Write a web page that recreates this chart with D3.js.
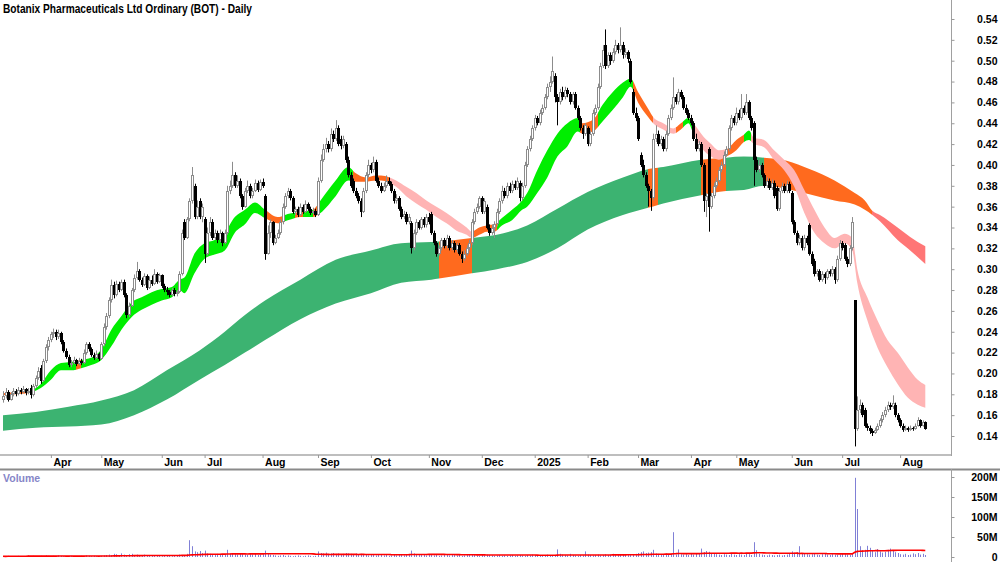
<!DOCTYPE html>
<html><head><meta charset="utf-8">
<script src="https://cdn.jsdelivr.net/npm/d3@7"></script>
<style>html,body{margin:0;padding:0;background:#fff;}svg{display:block;font-family:"Liberation Sans",Arial,sans-serif;}</style>
</head><body><svg id="c" width="1000" height="562"></svg>
<script>
// ---------- DATA (prices in cents, volume in millions) ----------
const title = "Botanix Pharmaceuticals Ltd Ordinary (BOT) - Daily";
const candles = [ // [open, high, low, close]
[17.5,18.3,17.2,17.8],[17.8,18.6,17.6,18.2],[18.2,18.4,17.3,17.5],[17.5,18.2,17.4,18.0],[18.0,18.6,17.8,18.3],
[18.3,18.5,17.8,18.0],[18.0,18.7,17.9,18.4],[18.4,18.6,18.0,18.2],[18.2,18.8,18.1,18.5],[18.5,18.6,17.9,18.1],
[18.1,18.6,18.0,18.3],[18.6,18.9,17.6,17.9],[17.9,19.0,17.8,18.8],[18.8,19.8,18.6,19.6],[19.6,20.6,19.4,20.2],
[20.5,20.8,19.0,19.3],[19.3,21.4,19.2,21.2],[21.2,22.8,21.0,22.5],[22.5,23.5,22.2,23.2],[23.2,24.0,23.0,23.8],
[23.8,24.3,23.4,24.0],[24.0,24.2,23.2,23.5],[23.5,24.2,23.3,23.9],[23.9,24.0,22.8,23.0],[23.0,23.2,22.0,22.2],
[22.2,22.4,21.4,21.6],[21.6,21.8,20.6,20.8],[20.8,21.3,20.6,21.0],[21.0,21.6,20.9,21.3],[21.3,21.4,20.7,20.9],
[20.9,21.5,20.8,21.2],[21.2,21.4,20.8,21.0],[21.0,22.3,20.9,22.0],[22.0,23.0,21.8,22.8],[22.8,23.0,22.1,22.3],
[22.3,22.5,21.6,21.8],[21.8,22.0,21.3,21.5],[21.5,22.2,21.4,21.9],[21.9,22.0,21.2,21.4],[21.4,23.0,21.3,22.8],
[22.8,24.8,22.6,24.5],[24.5,25.8,24.2,25.5],[25.5,27.3,25.3,27.0],[27.0,29.0,26.8,28.5],[28.5,28.8,27.2,27.5],
[27.5,28.9,27.4,28.6],[28.6,28.8,27.8,28.0],[28.0,29.0,27.9,28.8],[28.8,29.0,27.3,27.5],[27.5,27.7,25.3,25.6],
[25.6,26.8,25.4,26.5],[26.5,28.2,26.4,28.0],[28.0,29.5,27.8,29.2],[29.2,30.7,29.0,29.8],[29.8,30.0,28.8,29.0],
[29.0,29.2,28.3,28.5],[28.5,29.6,28.4,29.3],[29.3,29.5,28.0,28.2],[28.2,29.3,28.1,29.0],[29.0,29.4,28.4,28.6],
[28.6,30.0,28.5,29.5],[29.5,29.7,28.6,28.8],[28.8,29.6,28.7,29.4],[29.4,29.5,28.2,28.4],[28.4,28.6,27.8,28.0],
[28.0,28.3,27.5,27.8],[27.8,28.0,27.3,27.5],[27.5,28.2,27.4,28.0],[28.0,28.2,27.4,27.6],[27.6,28.0,27.4,27.8],
[27.8,29.8,27.7,29.5],[29.5,33.8,29.4,33.5],[34.5,34.8,32.8,33.0],[33.0,35.0,32.9,34.8],[34.8,36.8,34.6,36.5],
[36.5,39.8,36.3,39.0],[38.0,38.2,34.8,35.0],[35.0,36.6,34.8,36.0],[36.5,36.8,34.8,35.0],[35.0,36.3,34.5,36.0],
[34.8,35.0,30.6,31.5],[31.5,34.0,31.3,33.5],[33.5,35.0,33.2,34.5],[34.5,34.8,32.8,33.0],[33.0,33.8,32.8,33.5],
[33.5,33.7,32.5,32.8],[32.8,33.8,32.6,33.5],[33.5,33.6,32.2,32.5],[32.5,33.8,32.4,33.5],[33.5,38.0,33.3,37.5],
[37.5,38.5,37.2,38.0],[38.0,40.3,37.8,39.0],[39.0,39.3,37.8,38.0],[38.0,39.0,37.8,38.5],[38.5,38.7,36.8,37.0],
[37.0,37.2,35.7,36.0],[36.0,37.8,35.9,37.5],[37.5,38.5,37.3,38.0],[38.0,38.2,36.8,37.0],[37.0,37.8,36.8,37.5],
[37.5,38.6,37.4,38.3],[38.3,38.5,37.4,37.6],[37.6,38.6,37.5,38.4],[38.4,38.7,37.8,38.0],[37.0,37.2,30.9,31.5],
[31.5,34.2,31.4,33.5],[33.5,34.8,33.0,34.5],[34.5,34.6,32.3,32.5],[32.5,33.3,32.4,33.0],[33.0,33.8,32.9,33.5],
[33.5,34.8,33.3,34.5],[34.5,36.3,34.3,36.0],[36.0,37.3,35.8,37.0],[37.0,37.8,36.8,37.5],[37.5,37.7,36.6,36.8],
[36.8,37.0,35.3,35.5],[35.5,36.0,35.2,35.8],[35.8,36.0,35.0,35.2],[35.2,36.3,35.1,36.0],[36.0,36.2,35.3,35.5],
[35.5,36.6,35.4,36.3],[36.3,36.4,35.6,35.8],[35.8,36.0,35.2,35.4],[35.4,35.9,35.3,35.6],[35.6,35.8,35.0,35.2],
[35.2,38.8,35.1,38.5],[38.5,41.0,38.3,40.5],[40.5,42.0,40.3,41.5],[41.5,42.6,41.2,42.0],[42.0,42.3,41.2,41.5],
[41.5,43.5,41.3,43.0],[43.0,43.3,42.2,42.5],[42.5,44.3,42.3,43.5],[43.5,43.8,41.8,42.0],[42.5,42.8,41.5,41.8],
[41.8,42.8,41.6,42.5],[42.0,42.2,40.2,40.5],[40.5,40.8,38.8,39.0],[39.0,39.3,37.8,38.0],[38.5,38.7,37.3,37.5],
[37.5,37.8,36.8,37.0],[37.0,37.3,36.3,36.5],[36.5,36.8,35.0,35.5],[35.5,37.8,35.4,37.5],[37.5,39.3,37.3,39.0],
[39.0,40.5,38.8,40.0],[40.0,40.2,39.2,39.5],[39.5,40.8,39.3,40.3],[40.3,40.5,38.3,38.5],[38.5,38.8,37.8,38.0],
[38.0,38.3,37.3,37.5],[37.5,38.3,37.4,38.0],[38.0,39.0,37.8,38.5],[38.5,38.8,38.0,38.2],[38.2,38.4,37.3,37.5],
[37.5,37.7,36.3,36.5],[36.5,37.2,36.3,36.8],[36.8,37.0,35.6,35.8],[35.8,36.0,34.8,35.0],[35.0,35.6,34.8,35.3],
[35.3,35.5,34.3,34.5],[34.5,35.3,34.3,35.0],[34.4,34.6,31.5,32.0],[32.0,33.8,31.8,33.5],[33.5,34.8,33.3,34.5],
[34.5,34.7,33.8,34.0],[34.0,35.0,33.8,34.8],[34.8,35.0,34.0,34.2],[34.2,35.3,34.0,35.0],[35.0,35.4,34.3,34.5],
[35.3,35.5,33.3,33.5],[33.5,33.7,32.3,32.5],[32.5,32.7,31.2,31.5],[31.5,32.3,31.3,32.0],[32.0,33.0,31.8,32.8],
[32.8,33.0,32.0,32.2],[32.2,33.3,32.0,33.0],[33.0,33.2,31.8,32.0],[32.0,32.8,31.8,32.5],[32.5,32.7,31.6,31.8],
[31.8,32.5,31.6,32.3],[32.3,32.5,31.3,31.5],[31.5,31.7,30.6,31.0],[31.0,31.8,30.8,31.5],[31.5,32.3,31.3,32.0],
[32.0,32.8,31.8,32.5],[32.5,34.8,32.3,34.5],[34.5,35.8,34.3,35.5],[35.5,36.3,35.3,36.0],[36.0,37.0,35.8,36.8],
[36.8,37.0,35.3,35.5],[35.5,36.8,35.3,36.5],[36.0,36.2,33.8,34.0],[34.0,34.3,33.2,33.5],[33.5,34.3,33.3,34.0],
[34.0,34.6,33.0,34.3],[34.3,35.8,34.1,35.5],[35.5,36.8,35.3,36.5],[36.5,38.0,36.3,37.5],[37.5,37.8,36.8,37.0],
[37.0,38.3,36.8,38.0],[38.0,38.3,37.3,37.5],[37.5,38.5,37.3,38.2],[38.2,38.5,37.6,37.8],[37.8,38.8,37.6,38.5],
[38.3,38.5,36.5,36.8],[36.8,38.3,36.6,38.0],[38.0,40.3,37.8,40.0],[40.0,41.8,39.8,41.5],[41.5,42.8,41.3,42.5],
[42.5,43.8,42.3,43.5],[43.5,44.8,43.3,44.5],[44.5,44.7,43.8,44.0],[44.0,45.3,43.8,45.0],[45.0,45.8,44.8,45.5],
[45.5,46.8,45.3,46.5],[46.5,47.8,46.3,47.5],[47.5,48.5,47.0,48.0],[48.0,50.4,47.8,49.0],[48.5,48.8,46.0,46.5],
[46.5,46.8,43.8,46.0],[46.0,47.3,45.8,47.0],[47.0,47.5,46.2,46.5],[46.5,47.5,46.3,47.2],[47.2,47.4,46.5,46.8],
[46.8,47.0,45.8,46.0],[46.0,47.0,45.8,46.8],[46.8,47.0,45.3,45.5],[45.5,45.7,44.3,44.5],[44.5,44.7,43.3,43.5],
[43.5,43.8,42.5,43.0],[43.0,44.0,42.8,43.8],[43.5,43.7,41.8,42.0],[42.0,43.3,41.8,43.0],[43.0,45.3,42.8,45.0],
[45.0,45.8,44.8,45.5],[45.5,47.8,45.3,47.5],[47.5,49.8,47.3,49.5],[49.5,51.5,49.3,51.0],[51.5,53.0,49.2,49.5],
[49.5,50.8,49.3,50.5],[50.5,50.8,49.6,50.0],[50.0,51.2,49.8,50.8],[50.8,52.0,50.6,51.5],[51.5,51.7,50.7,51.0],
[51.0,53.2,50.8,51.5],[51.5,51.8,50.2,50.5],[50.5,51.2,50.3,50.8],[50.8,51.0,49.8,50.2],[50.0,50.2,47.8,48.0],
[47.0,47.3,44.8,45.0],[45.0,45.5,44.2,44.5],[44.5,44.7,42.3,42.5],[41.0,41.2,39.8,40.0],[40.0,40.5,38.8,39.0],
[39.0,39.3,37.8,38.0],[38.0,38.2,36.0,37.5],[37.5,37.7,35.6,36.8],[36.8,43.0,36.6,42.5],[42.5,43.8,42.2,43.0],
[43.0,43.3,41.8,42.0],[42.0,42.8,41.8,42.5],[42.5,42.7,41.3,41.5],[41.5,43.3,41.3,43.0],[43.0,44.8,42.8,44.5],
[44.5,45.8,44.3,45.5],[45.5,48.4,45.3,46.5],[46.5,46.8,45.8,46.0],[46.0,47.3,45.8,47.0],[47.0,47.2,46.3,46.5],
[46.5,46.7,45.3,45.5],[45.5,45.8,44.8,45.0],[45.0,45.3,44.3,44.5],[44.5,44.8,43.8,44.0],[44.0,44.2,42.3,42.5],
[42.5,43.0,41.3,41.5],[41.5,42.3,41.3,42.0],[42.0,42.2,39.8,40.0],[40.0,40.2,35.5,36.5],[36.5,37.3,35.0,37.0],
[41.5,41.7,33.6,36.0],[36.0,37.3,35.8,37.0],[37.0,38.3,36.8,38.0],[38.0,38.8,37.8,38.5],[38.5,39.8,38.3,39.5],
[39.5,40.3,39.3,40.0],[40.0,41.3,39.8,41.0],[41.0,41.8,40.8,41.5],[41.5,43.8,41.3,43.5],[43.5,44.8,43.3,44.5],
[44.5,44.7,43.8,44.0],[44.0,45.5,43.8,45.0],[45.0,45.3,44.3,44.5],[44.5,46.8,44.3,45.5],[45.5,45.7,44.8,45.0],
[45.0,46.8,44.8,46.0],[46.0,46.2,44.3,44.5],[44.5,44.7,43.3,43.5],[44.0,44.2,38.0,40.5],[40.5,40.8,39.3,39.5],
[39.5,40.5,39.3,40.0],[40.0,40.2,38.8,39.0],[39.0,39.2,37.8,38.0],[38.0,38.8,37.8,38.5],[38.5,38.7,37.6,37.8],
[37.8,38.6,37.6,38.3],[38.3,38.5,36.8,37.0],[37.8,38.0,35.6,35.8],[35.8,37.8,35.6,37.5],[37.5,38.3,37.3,38.0],
[38.0,38.2,37.3,37.5],[37.5,38.5,37.3,38.2],[38.2,38.4,37.3,37.5],[37.3,37.5,34.3,34.5],[34.5,34.7,33.3,33.5],
[33.5,33.7,32.3,32.5],[32.5,33.3,32.3,33.0],[33.0,33.2,31.8,32.0],[32.0,33.3,31.8,33.0],[33.0,33.2,32.3,32.5],
[34.2,34.4,31.3,31.5],[31.5,31.7,30.3,30.5],[30.8,31.0,29.3,29.5],[29.5,30.0,29.3,29.8],[29.8,30.0,28.8,29.0],
[29.0,29.8,28.8,29.5],[29.5,29.7,28.6,29.2],[29.2,30.0,29.0,29.8],[29.8,30.0,29.3,29.5],[29.5,30.3,29.3,30.0],
[30.0,30.2,28.6,29.0],[29.0,31.3,28.8,31.0],[31.0,32.8,30.8,32.5],[32.5,32.7,31.8,32.0],[32.3,32.5,30.8,31.0],
[31.0,31.2,30.2,30.5],[30.5,32.3,30.3,32.0],[32.0,35.0,31.8,34.5],[27.0,27.0,13.0,14.7],[14.7,17.8,14.5,16.5],
[16.5,17.5,16.2,17.0],[17.0,17.2,15.8,16.0],[16.5,16.7,14.8,15.0],[15.0,15.2,14.5,14.8],[14.8,15.0,14.2,14.5],
[14.5,14.7,14.0,14.3],[14.3,14.8,14.2,14.6],[14.6,15.2,14.5,15.0],[15.0,15.7,14.8,15.5],[15.5,16.3,15.3,16.0],
[16.0,16.8,15.8,16.5],[16.5,17.3,16.3,17.0],[17.0,17.2,16.5,16.8],[16.8,17.9,16.6,17.2],[17.0,17.2,15.8,16.0],
[16.0,16.2,15.3,15.5],[15.5,15.7,14.8,15.0],[15.0,15.2,14.4,14.6],[14.6,15.0,14.5,14.8],[14.8,14.9,14.4,14.6],
[14.6,15.0,14.5,14.8],[14.8,14.9,14.5,14.7],[14.7,15.2,14.6,15.0],[15.0,15.8,14.9,15.5],[15.5,15.6,14.8,15.0],
[15.0,15.5,14.9,15.3],[15.3,15.4,14.6,14.7]
];
const volume = [
2,1,3,2,1,2,3,1,2,2,4,2,3,2,1,3,2,4,3,2,
3,2,4,3,2,1,2,3,2,1,2,3,2,4,3,2,3,2,1,3,
4,5,6,5,8,7,5,9,6,4,7,8,5,6,4,5,6,3,4,5,
3,4,3,2,3,4,3,2,3,5,6,4,5,
8,42,27,14,12,15,10,16,9,8,7,6,8,5,7,6,18,
9,8,7,6,8,7,6,5,7,6,8,5,6,7,16,
9,6,5,4,3,4,5,3,4,3,2,3,4,3,2,3,4,3,2,3,
14,10,9,11,8,9,10,8,9,7,8,10,9,8,7,9,6,8,
6,5,4,6,5,4,5,6,4,5,3,4,5,4,6,5,4,5,
6,16,9,7,5,6,
5,4,5,6,4,5,3,4,6,5,4,5,6,4,5,3,4,5,6,7,5,4,3,5,4,6,5,4,3,4,5,3,4,
3,4,5,3,4,5,4,3,5,4,6,5,4,3,5,4,6,5,4,5,
19,8,6,5,4,8,5,4,3,5,
4,14,6,5,4,5,6,4,5,7,
5,6,8,5,7,6,5,6,7,5,
6,8,10,12,14,10,11,12,18,9,
8,7,6,9,5,7,62,6,19,7,
6,7,5,8,6,9,9,21,12,15,
13,10,8,7,6,5,7,6,5,8,
6,5,7,6,5,8,7,5,37,17,
8,6,5,4,6,5,4,5,6,4,
5,6,10,14,11,12,27,9,8,7,
6,7,8,6,5,7,8,6,5,7,6,5,6,8,7,6,5,8,
198,120,27,17,18,28,23,15,12,20,14,11,13,18,21,16,12,10,7,6,8,5,6,9,7,10,6,8,5
];
// short-term GMMA ribbon (edges, cents)
const shortIdx = [0,5,10,15,19,23,27,31,35,39,43,47,51,55,59,63,67,70,72,76,80,84,88,92,96,100,104,109,113,118,123,126,132,137,140,144,148,150,156,160,164,168,172,176,180,184,186,189,192,195,198,202,206,208,212,216,220,224,228,230,234,238,242,246,249,252,256,258,262,266,269,272,274,278,281,284,287,291,294,296,298,302,306,310,314,318,322,326,330,334,337,339,343,347,351,355,359,363,366];
const shortHi = [18.1,18.2,18.3,19.0,20.3,21.0,21.1,21.3,21.5,22.3,24.2,25.5,26.8,27.3,27.8,28.1,28.3,29.0,29.2,31.5,32.5,32.8,33.5,35.0,35.7,36.4,35.7,35.0,35.3,35.5,35.7,36.6,38.5,39.8,39.2,38.8,39.0,39.0,38.5,37.9,37.3,36.6,36.0,35.4,34.7,34.0,33.6,34.0,34.2,34.3,34.9,35.7,36.6,37.3,39.5,41.4,43.0,44.0,44.5,44.0,44.3,45.8,47.0,47.9,48.3,47.0,45.4,44.6,44.0,43.5,44.0,44.5,44.0,42.7,42.0,41.4,41.5,42.4,42.9,43.3,42.6,42.4,41.4,40.5,39.5,37.6,35.7,34.0,33.0,33.4,33.0,30.0,27.3,25.1,23.2,22.0,20.6,19.4,18.9];
const shortLo = [17.9,18.0,18.1,18.6,19.4,20.3,20.3,20.5,20.8,21.3,22.6,24.2,25.4,26.1,26.6,27.0,27.3,28.0,27.7,29.6,31.0,31.4,31.8,33.5,34.3,35.4,34.9,34.4,34.7,35.0,35.0,35.4,37.0,38.5,38.4,38.4,38.5,38.5,37.9,37.0,36.3,35.7,35.0,34.4,33.7,33.3,33.0,33.3,33.6,33.6,34.2,34.7,35.7,36.0,37.3,38.8,40.8,41.8,43.2,43.0,43.2,44.2,45.3,46.5,47.5,46.0,44.6,44.0,43.4,43.0,43.4,44.0,43.0,41.4,40.8,40.5,40.8,41.4,42.2,42.4,42.0,41.7,40.5,39.5,37.9,35.4,33.5,32.5,32.0,32.5,31.8,28.7,25.1,22.5,20.6,19.0,17.7,17.0,16.7];
const shortTrend = [[0,"mixed"],[10,"up"],[29,"mixed"],[31,"up"],[104,"mixed"],[112,"up"],[116,"mixed"],[119,"up"],[123,"mixed"],[125,"up"],[139,"mixed"],[153,"down"],[186,"mixed"],[196,"up"],[229,"mixed"],[236,"up"],[250,"mixed"],[258,"down"],[267,"mixed"],[270,"up"],[274,"down"],[287,"mixed"],[294,"up"],[297,"down"]];
// long-term GMMA ribbon
const longIdx = [0,13,26,39,52,65,78,88,96,104,118,132,146,158,170,186,196,208,220,232,246,256,262,277,287,294,302,311,320,330,338,342,345,348,355,360,366];
const longHi = [16.0,16.3,16.8,17.4,18.4,20.3,22.2,24.0,25.6,27.0,29.0,30.9,31.8,32.5,32.6,33.0,33.3,34.2,35.8,37.4,38.8,39.6,39.8,40.5,40.7,40.8,40.7,40.4,39.6,38.5,37.3,36.6,35.6,35.2,34.0,33.1,32.2];
const longLo = [14.5,14.8,14.9,15.1,16.0,17.5,19.4,20.8,22.0,23.2,25.2,26.7,27.7,28.7,29.0,29.6,30.0,30.7,32.0,33.8,35.2,35.9,36.3,37.1,37.5,37.6,38.0,37.7,37.2,36.6,36.2,35.7,35.2,34.6,32.8,31.8,30.5];
const longTrend = [[0,"up"],[173,"mixed"],[186,"up"],[256,"mixed"],[260,"up"],[277,"mixed"],[287,"up"],[302,"mixed"],[345,"down"]];
// axes
const priceTicks = [0.14,0.16,0.18,0.20,0.22,0.24,0.26,0.28,0.30,0.32,0.34,0.36,0.38,0.40,0.42,0.44,0.46,0.48,0.50,0.52,0.54];
const monthIdx = [19,39,63,80,103,125,146,169,190,211,232,252,273,291,313,333,356];
const monthLabels = ["Apr","May","Jun","Jul","Aug","Sep","Oct","Nov","Dec","2025","Feb","Mar","Apr","May","Jun","Jul","Aug"];
const volTicks = [0,50,100,150,200];
const volMAPeriod = 50;

// ---------- DRAW ----------
const svg = d3.select("#c");
const defs = svg.append("defs");
const PX = 951; // right edge of plot
const x = d3.scaleLinear().domain([0, candles.length - 1]).range([3, 925.3]);
const y = d3.scaleLinear().domain([0.14, 0.54]).range([436, 19]);
const yv = d3.scaleLinear().domain([0, 200]).range([557, 477]);

defs.append("clipPath").attr("id","pclip").append("rect").attr("x",0).attr("y",0).attr("width",PX).attr("height",455);
defs.append("clipPath").attr("id","vclip").append("rect").attr("x",0).attr("y",470).attr("width",PX).attr("height",92);
const gp = svg.append("g").attr("clip-path","url(#pclip)");

const shortColors = {up:"#00ee00", mixed:"#ff6a1e", down:"#ffb4b4"};
const longColors = {up:"#3cb371", mixed:"#ff6a1e", down:"#ff7676"};

function ribbon(idx, hi, lo, trend, colors, id) {
  const pts = idx.map((d,k)=>({i:d, hi:hi[k]/100, lo:lo[k]/100}));
  const area = d3.area().x(d=>x(d.i)).y0(d=>y(d.lo)).y1(d=>y(d.hi)).curve(d3.curveMonotoneX);
  const pathD = area(pts);
  trend.forEach((s,k)=>{
    const x0 = k===0 ? 0 : Math.round(x(s[0]));
    const x1 = k===trend.length-1 ? PX : Math.round(x(trend[k+1][0]));
    const cid = id + k;
    defs.append("clipPath").attr("id",cid).append("rect").attr("x",x0).attr("y",0).attr("width",x1-x0).attr("height",460);
    gp.append("path").attr("d",pathD).attr("fill",colors[s[1]]).attr("clip-path",`url(#${cid})`);
  });
}
ribbon(longIdx, longHi, longLo, longTrend, longColors, "lc");
ribbon(shortIdx, shortHi, shortLo, shortTrend, shortColors, "sc");

// candles
const gc = gp.append("g");
candles.forEach((d,i)=>{
  const [o,h,l,c] = d.map(v=>v/100);
  const cx = Math.round(x(i));
  const up = c >= o;
  const col = up ? "#8c8c8c" : "#000";
  gc.append("line").attr("x1",cx+0.5).attr("x2",cx+0.5)
    .attr("y1",y(Math.max(h,o,c))).attr("y2",y(Math.min(l,o,c)))
    .attr("stroke",col).attr("stroke-width",1);
  const top = Math.round(y(Math.max(o,c))), bot = Math.round(y(Math.min(o,c)));
  if (up) {
    gc.append("rect").attr("x",cx-0.5).attr("y",top+0.5).attr("width",2).attr("height",Math.max(bot-top-1,1))
      .attr("fill","#fff").attr("stroke",col).attr("stroke-width",1);
  } else {
    gc.append("rect").attr("x",cx-1).attr("y",top).attr("width",3).attr("height",Math.max(bot-top,1)).attr("fill","#000");
  }
});

// volume
const gv = svg.append("g").attr("clip-path","url(#vclip)");
volume.forEach((v,i)=>{
  const cx = Math.round(x(i)) + 0.5;
  gv.append("line").attr("x1",cx).attr("x2",cx).attr("y1",yv(0)).attr("y2",yv(v)).attr("stroke","#8080d6").attr("stroke-width",1);
});
const volMA = volume.map((v,i)=>{ const s = volume.slice(Math.max(0,i-volMAPeriod+1), i+1); return d3.mean(s); });
gv.append("path").datum(volMA).attr("fill","none").attr("stroke","#ff0000").attr("stroke-width",1.6)
  .attr("d", d3.line().x((d,i)=>x(i)).y(d=>yv(d)));

// frame lines
svg.append("line").attr("x1",0).attr("x2",PX).attr("y1",455).attr("y2",455).attr("stroke","#a8a8a8").attr("stroke-width",1.5);
svg.append("line").attr("x1",0).attr("x2",1000).attr("y1",469.5).attr("y2",469.5).attr("stroke","#8a8a8a").attr("stroke-width",2);
svg.append("line").attr("x1",PX+0.5).attr("x2",PX+0.5).attr("y1",0).attr("y2",456).attr("stroke","#a0a0a0");
svg.append("line").attr("x1",PX+0.5).attr("x2",PX+0.5).attr("y1",469).attr("y2",562).attr("stroke","#a0a0a0");

// price axis
const ya = svg.append("g").attr("transform",`translate(${PX+0.5},0)`)
  .call(d3.axisRight(y).tickValues(priceTicks).tickSize(3).tickSizeOuter(0).tickFormat(d=>d.toFixed(2)));
ya.select(".domain").remove();
ya.selectAll("line").attr("stroke","#999");
ya.selectAll("text").attr("x",46).attr("text-anchor","end").attr("fill","#000")
  .style("font-size","10.5px").style("font-weight","bold").style("font-family","'Liberation Sans',Arial,sans-serif");

// volume axis
const va = svg.append("g").attr("transform",`translate(${PX+0.5},0)`)
  .call(d3.axisRight(yv).tickValues(volTicks).tickSize(3).tickSizeOuter(0).tickFormat(d=> d===0 ? "0" : d+"M"));
va.select(".domain").remove();
va.selectAll("line").attr("stroke","#999");
va.selectAll("text").attr("x",46).attr("text-anchor","end").attr("fill","#000")
  .style("font-size","10.5px").style("font-weight","bold").style("font-family","'Liberation Sans',Arial,sans-serif");

// time axis
const xa = svg.append("g").attr("transform","translate(0,455)")
  .call(d3.axisBottom(x).tickValues(monthIdx).tickSize(3).tickSizeOuter(0).tickFormat((d,k)=>monthLabels[k]));
xa.select(".domain").remove();
xa.selectAll("line").attr("stroke","#999");
xa.selectAll("text").attr("x",2).attr("y",4).attr("dy","0.71em").attr("text-anchor","start").attr("fill","#000")
  .style("font-size","10.5px").style("font-weight","bold").style("font-family","'Liberation Sans',Arial,sans-serif");

// labels
svg.append("text").attr("x",3).attr("y",13).attr("textLength",249).attr("lengthAdjust","spacingAndGlyphs")
  .style("font-size","12px").style("font-weight","bold").attr("fill","#000").text(title);
svg.append("text").attr("x",3).attr("y",482).style("font-size","10.5px").style("font-weight","bold")
  .attr("fill","#8686c8").text("Volume");
</script></body></html>
